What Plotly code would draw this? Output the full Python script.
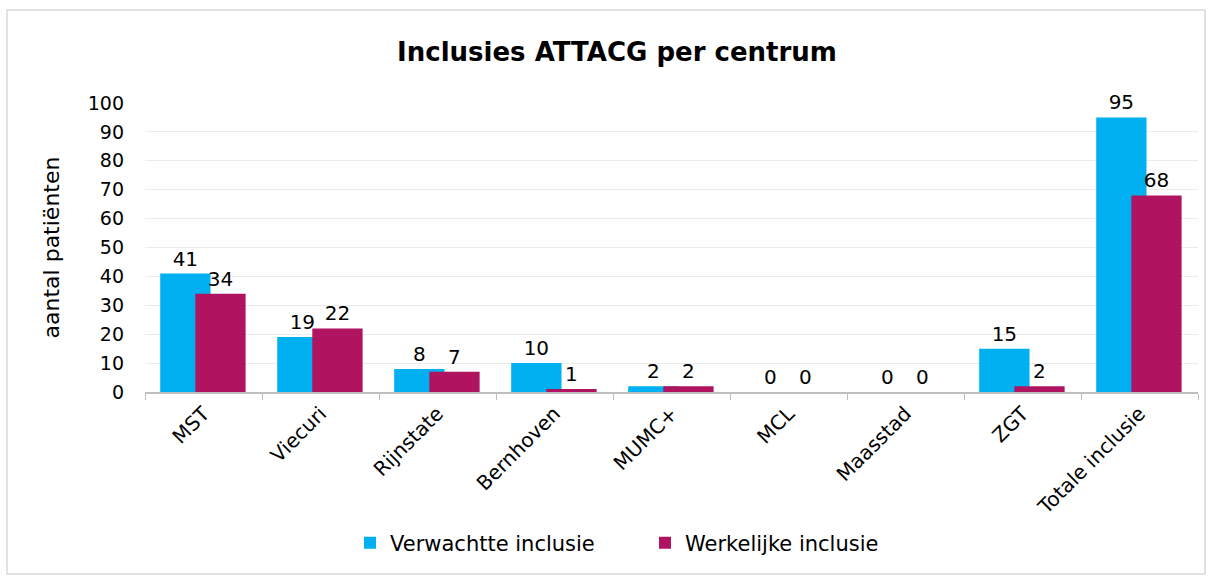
import plotly.graph_objects as go

categories = ["MST", "Viecuri", "Rijnstate", "Bernhoven", "MUMC+", "MCL", "Maasstad", "ZGT", "Totale inclusie"]
verwacht = [41, 19, 8, 10, 2, 0, 0, 15, 95]
werkelijk = [34, 22, 7, 1, 2, 0, 0, 2, 68]
series_names = ["Verwachtte inclusie", "Werkelijke inclusie"]
y_ticks = [0, 10, 20, 30, 40, 50, 60, 70, 80, 90, 100]

FONT = "DejaVu Sans"
BLUE = "#00B0F0"
MAGENTA = "#B0135F"

fig = go.Figure()
fig.add_trace(go.Bar(
    x=categories, y=verwacht, name=series_names[0],
    marker=dict(color=BLUE, line=dict(width=0)),
    offset=-0.37, width=0.43,
    text=verwacht, texttemplate="%{y}", textposition="outside",
    textfont=dict(size=20, color="#000000", family=FONT),
    cliponaxis=False,
))
fig.add_trace(go.Bar(
    x=categories, y=werkelijk, name=series_names[1],
    marker=dict(color=MAGENTA, line=dict(width=0)),
    offset=-0.07, width=0.43,
    text=werkelijk, texttemplate="%{y}", textposition="outside",
    textfont=dict(size=20, color="#000000", family=FONT),
    cliponaxis=False,
))

L, R, T, B = 145, 15, 103, 187
W, H = 1213, 579
pw, ph = W - L - R, H - T - B

def px(x):
    return (x - L) / pw

def py(y):
    return (H - B - y) / ph

fig.add_shape(type="rect", xref="paper", yref="paper",
              x0=px(7), x1=px(1205), y0=py(10), y1=py(574),
              line=dict(color="#D9D9D9", width=1.5), fillcolor="rgba(0,0,0,0)", layer="below")

fig.update_layout(
    width=W, height=H,
    margin=dict(l=L, r=R, t=T, b=B, autoexpand=False),
    barmode="overlay",
    plot_bgcolor="white", paper_bgcolor="white",
    font=dict(family=FONT, color="#000000", size=18),
    title=dict(text="<b>Inclusies ATTACG per centrum</b>", x=617 / W, xanchor="center",
               y=1 - 52 / H, yanchor="middle", font=dict(size=26, family=FONT, color="#000000")),
    legend=dict(orientation="h", x=px(350), xanchor="left", y=py(543), yanchor="middle",
                font=dict(size=21, family=FONT), traceorder="normal",
                entrywidth=250, entrywidthmode="pixels"),
    showlegend=True,
)
fig.update_xaxes(
    type="category", tickson="boundaries", ticks="outside", ticklen=6, tickcolor="#BFBFBF",
    showline=True, linecolor="#BFBFBF", linewidth=2, tickangle=-45, automargin=False,
    tickfont=dict(size=20, family=FONT), showgrid=False, range=[-0.5, 8.5],
)
fig.update_yaxes(
    range=[0, 100], tickvals=y_ticks, showgrid=True, gridcolor="#EBEBEB", gridwidth=1,
    zeroline=False, showline=False, tickfont=dict(size=19, family=FONT), automargin=False,
    ticklabelstandoff=20,
    title=dict(text="aantal patiënten", font=dict(size=22, family=FONT), standoff=22),
)

fig.write_html("out.html", config={"displayModeBar": False},
               post_script="document.body.style.margin='0';document.body.style.overflow='hidden';")
